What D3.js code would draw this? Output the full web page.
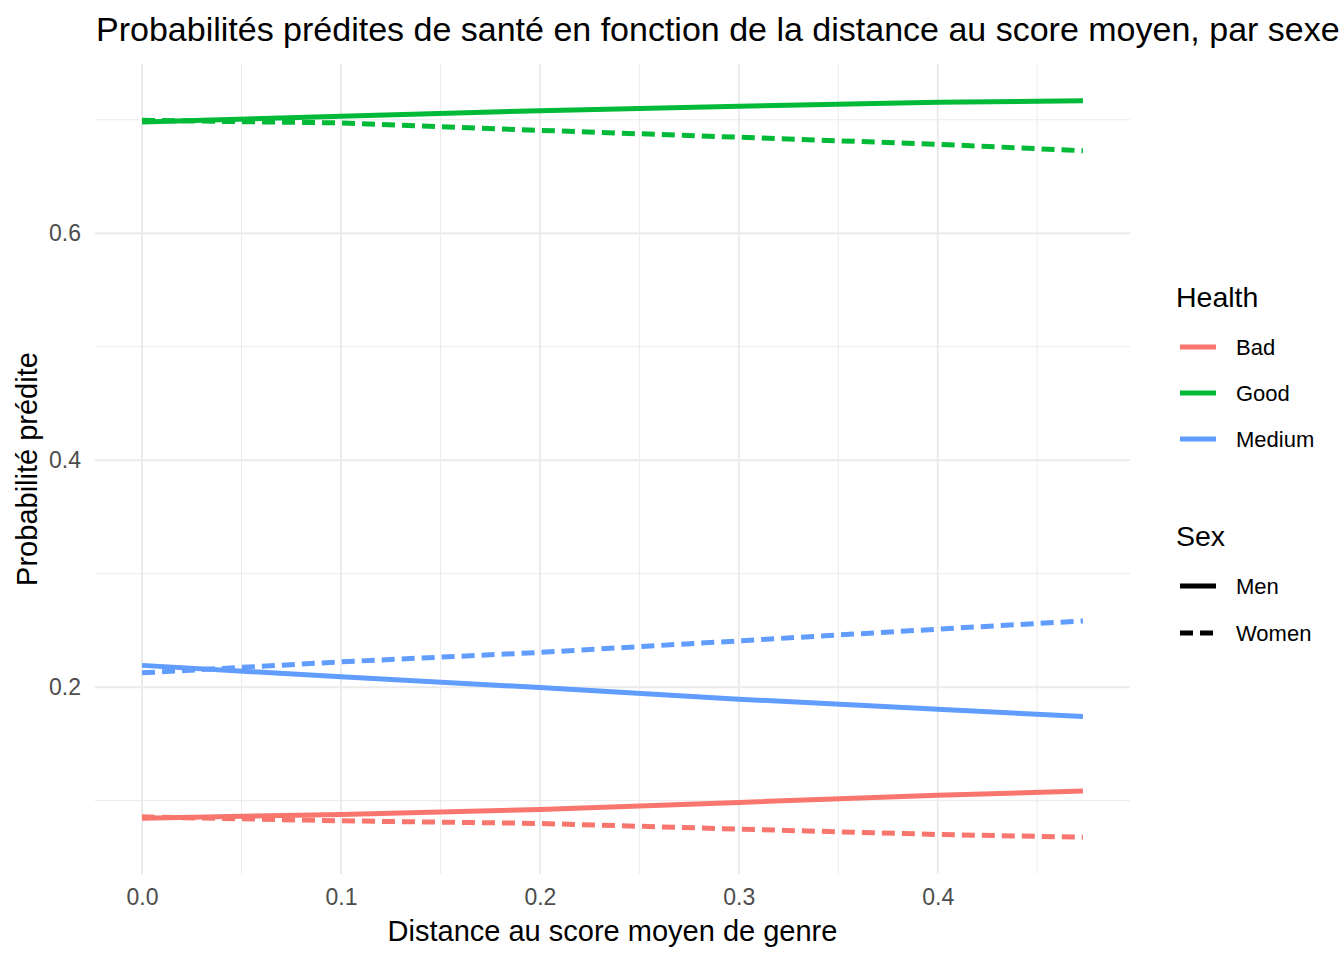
<!DOCTYPE html>
<html>
<head>
<meta charset="utf-8">
<script src="https://cdn.jsdelivr.net/npm/d3@7"></script>
<style>
  body { margin: 0; background: #fff; }
  text { font-family: "Liberation Sans", Arial, sans-serif; }
</style>
</head>
<body>
<div id="chart"></div>
<script>
  const distances = [0, 0.1, 0.2, 0.3, 0.4, 0.473];

  const healthLevels = ['Bad', 'Good', 'Medium'];
  const sexLevels = ['Men', 'Women'];

  const badMen = [0.0845, 0.0878, 0.0922, 0.0984, 0.1048, 0.1084];
  const badWomen = [0.0857, 0.0822, 0.0799, 0.0749, 0.0702, 0.0678];
  const goodMen = [0.698, 0.7031, 0.708, 0.7119, 0.7155, 0.7167];
  const goodWomen = [0.6995, 0.6972, 0.6907, 0.6846, 0.6784, 0.6727];
  const mediumMen = [0.2192, 0.2091, 0.1997, 0.1894, 0.1805, 0.1742];
  const mediumWomen = [0.2126, 0.2223, 0.2306, 0.2408, 0.2511, 0.2584];

  const xTicks = [0, 0.1, 0.2, 0.3, 0.4];
  const yTicks = [0.2, 0.4, 0.6];

  const series = [
    { health: 'Bad', sex: 'Men', values: badMen },
    { health: 'Bad', sex: 'Women', values: badWomen },
    { health: 'Good', sex: 'Men', values: goodMen },
    { health: 'Good', sex: 'Women', values: goodWomen },
    { health: 'Medium', sex: 'Men', values: mediumMen },
    { health: 'Medium', sex: 'Women', values: mediumWomen },
  ];

  const width = 1344, height = 960;
  const panel = { left: 95, right: 1130, top: 64, bottom: 874 };

  const svg = d3.select('#chart').append('svg').attr('width', width).attr('height', height);

  const xMax = d3.max(distances);
  const allY = series.flatMap((s) => s.values);
  const yMin = d3.min(allY), yMax = d3.max(allY);
  const xPad = xMax * 0.05, yPad = (yMax - yMin) * 0.05;

  const x = d3.scaleLinear().domain([0 - xPad, xMax + xPad]).range([panel.left, panel.right]);
  const y = d3.scaleLinear().domain([yMin - yPad, yMax + yPad]).range([panel.bottom, panel.top]);

  const color = d3.scaleOrdinal().domain(healthLevels).range(['#F8766D', '#00BA38', '#619CFF']);
  const dash = d3.scaleOrdinal().domain(sexLevels).range([null, '13,7']);

  // grid
  const xMinor = d3.range(0.05, xMax + xPad, 0.1);
  const yMinor = [0.1, 0.3, 0.5, 0.7];
  const grid = svg.append('g');
  grid.selectAll('line.xminor').data(xMinor).join('line')
    .attr('x1', (d) => x(d)).attr('x2', (d) => x(d))
    .attr('y1', panel.top).attr('y2', panel.bottom)
    .attr('stroke', '#EBEBEB').attr('stroke-width', 1);
  grid.selectAll('line.yminor').data(yMinor).join('line')
    .attr('y1', (d) => y(d)).attr('y2', (d) => y(d))
    .attr('x1', panel.left).attr('x2', panel.right)
    .attr('stroke', '#EBEBEB').attr('stroke-width', 1);
  grid.selectAll('line.xmajor').data(xTicks).join('line')
    .attr('x1', (d) => x(d)).attr('x2', (d) => x(d))
    .attr('y1', panel.top).attr('y2', panel.bottom)
    .attr('stroke', '#EBEBEB').attr('stroke-width', 2);
  grid.selectAll('line.ymajor').data(yTicks).join('line')
    .attr('y1', (d) => y(d)).attr('y2', (d) => y(d))
    .attr('x1', panel.left).attr('x2', panel.right)
    .attr('stroke', '#EBEBEB').attr('stroke-width', 2);

  // axes (labels only, like theme_minimal)
  const xAxis = svg.append('g').attr('transform', `translate(0,${panel.bottom})`)
    .call(d3.axisBottom(x).tickValues(xTicks).tickFormat(d3.format('.1f')).tickSize(0).tickPadding(15));
  const yAxis = svg.append('g').attr('transform', `translate(${panel.left},0)`)
    .call(d3.axisLeft(y).tickValues(yTicks).tickFormat(d3.format('.1f')).tickSize(0).tickPadding(14));
  [xAxis, yAxis].forEach((a) => {
    a.select('.domain').remove();
    a.selectAll('text').attr('fill', '#4D4D4D').style('font-size', '23px')
      .style('font-family', '"Liberation Sans", Arial, sans-serif');
  });

  // lines
  const line = d3.line().x((d, i) => x(distances[i])).y((d) => y(d));
  svg.append('g').selectAll('path').data(series).join('path')
    .attr('d', (d) => line(d.values))
    .attr('fill', 'none')
    .attr('stroke', (d) => color(d.health))
    .attr('stroke-width', 5)
    .attr('stroke-dasharray', (d) => dash(d.sex));

  // titles
  svg.append('text').attr('x', 96).attr('y', 41).text('Probabilités prédites de santé en fonction de la distance au score moyen, par sexe')
    .style('font-size', '34px').attr('fill', '#000');
  svg.append('text').attr('x', (panel.left + panel.right) / 2).attr('y', 941).attr('text-anchor', 'middle')
    .text('Distance au score moyen de genre').style('font-size', '29px');
  svg.append('text').attr('transform', `translate(37,${(panel.top + panel.bottom) / 2}) rotate(-90)`)
    .attr('text-anchor', 'middle').text('Probabilité prédite').style('font-size', '29px');

  // legends
  const legend = svg.append('g').attr('transform', 'translate(1176,0)');
  legend.append('text').attr('x', 0).attr('y', 307).text('Health').style('font-size', '28.5px');
  const hKeys = legend.selectAll('g.h').data(healthLevels).join('g')
    .attr('transform', (d, i) => `translate(0,${347 + i * 46})`);
  hKeys.append('line').attr('x1', 4).attr('x2', 40).attr('stroke', (d) => color(d)).attr('stroke-width', 5);
  hKeys.append('text').attr('x', 60).attr('y', 8).text((d) => d).style('font-size', '22px');

  legend.append('text').attr('x', 0).attr('y', 546).text('Sex').style('font-size', '28.5px');
  const sKeys = legend.selectAll('g.s').data(sexLevels).join('g')
    .attr('transform', (d, i) => `translate(0,${586 + i * 47})`);
  sKeys.append('line').attr('x1', 4).attr('x2', 40).attr('stroke', '#000').attr('stroke-width', 5)
    .attr('stroke-dasharray', (d) => dash(d));
  sKeys.append('text').attr('x', 60).attr('y', 8).text((d) => d).style('font-size', '22px');
</script>
</body>
</html>
